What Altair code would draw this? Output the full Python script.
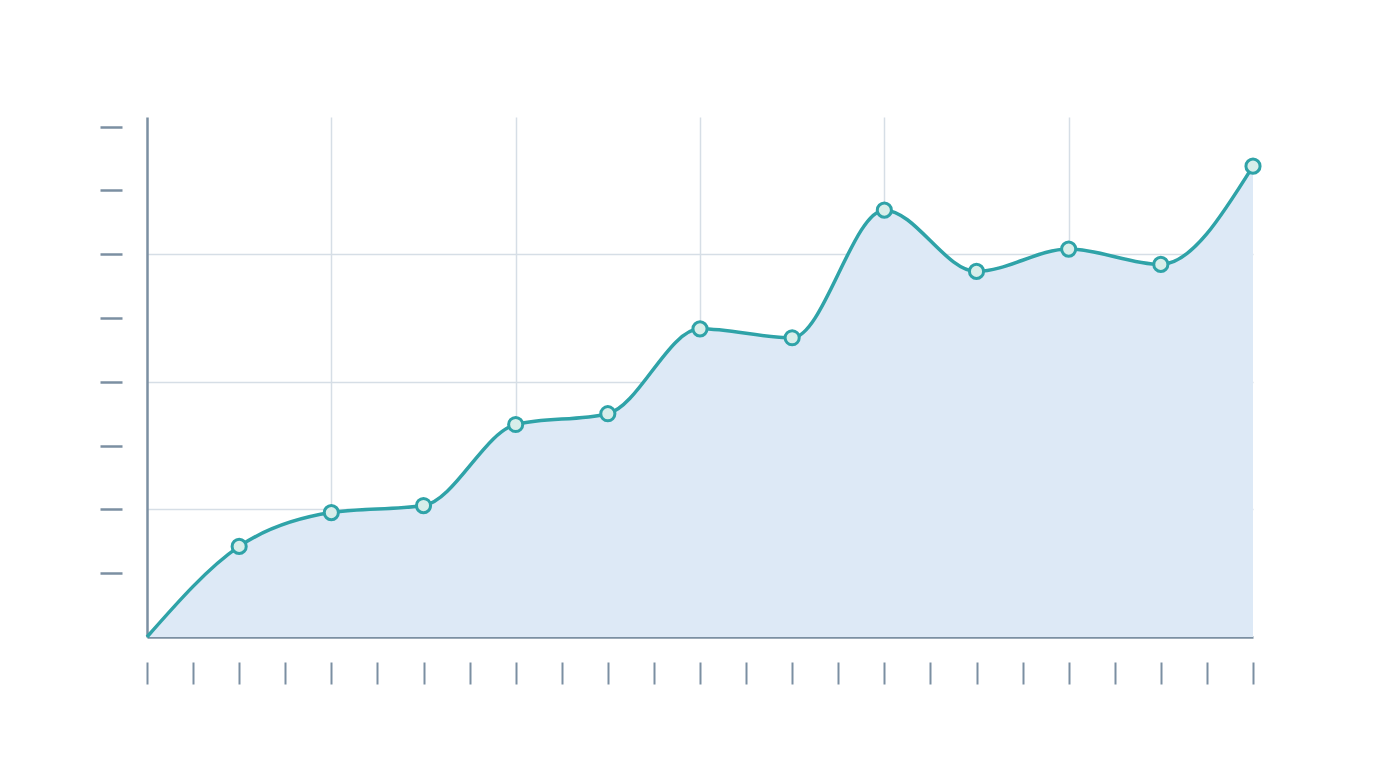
import altair as alt
import pandas as pd

x_vals = [0, 1, 2, 3, 4, 5, 6, 7, 8, 9, 10, 11, 12]
y_vals = [0.0, 1.42, 1.95, 2.06, 3.33, 3.5, 4.83, 4.69, 6.69, 5.73, 6.08, 5.84, 7.38]
x_tick_values = [i * 0.5 for i in range(25)]
y_tick_values = [1, 2, 3, 4, 5, 6, 7, 8]
x_grid_values = [2, 4, 6, 8, 10]
y_grid_values = [2, 4, 6]

df = pd.DataFrame({"x": x_vals, "y": y_vals})

x_scale = alt.Scale(domain=[0, 12], nice=False, zero=False)
y_scale = alt.Scale(domain=[0, 8.15], nice=False)

LINE = "#2fa3a8"
AXIS = "#7b8fa2"
GRID = "#d6dee6"

base = alt.Chart(df)

area = base.mark_area(interpolate="monotone", color="#dde9f6", opacity=1).encode(
    x=alt.X("x:Q", scale=x_scale, title=None,
            axis=alt.Axis(values=x_grid_values, grid=True, gridColor=GRID, gridWidth=1.5,
                          ticks=False, labels=False, domain=True, domainColor=AXIS,
                          domainWidth=2.5, orient="bottom")),
    y=alt.Y("y:Q", scale=y_scale, title=None,
            axis=alt.Axis(values=y_grid_values, grid=True, gridColor=GRID, gridWidth=1.5,
                          ticks=False, labels=False, domain=True, domainColor=AXIS,
                          domainWidth=2.5, orient="left")),
)

line = base.mark_line(interpolate="monotone", color=LINE, strokeWidth=3.5).encode(
    x=alt.X("x:Q", scale=x_scale, title=None,
            axis=alt.Axis(values=x_tick_values, grid=False, ticks=True, tickSize=22,
                          tickColor=AXIS, tickWidth=2, labels=False, domain=False,
                          offset=25, orient="bottom")),
    y=alt.Y("y:Q", scale=y_scale, title=None,
            axis=alt.Axis(values=y_tick_values, grid=False, ticks=True, tickSize=22,
                          tickColor=AXIS, tickWidth=2.5, labels=False, domain=False,
                          offset=25, orient="left")),
)

points = base.transform_filter("datum.x > 0").mark_point(
    filled=True, fill="#d8eeea", stroke=LINE, strokeWidth=3, size=200, opacity=1
).encode(
    x=alt.X("x:Q", scale=x_scale, axis=None),
    y=alt.Y("y:Q", scale=y_scale, axis=None),
)

chart = alt.layer(area, line, points).resolve_axis(
    x="independent", y="independent"
).properties(
    width=1106,
    height=520,
    autosize=alt.AutoSizeParams(type="none"),
    padding={"left": 139, "top": 109, "right": 110, "bottom": 120},
    background="white",
).configure_view(stroke=None)

chart.save("out.html", embed_options={"renderer": "svg", "actions": False})
